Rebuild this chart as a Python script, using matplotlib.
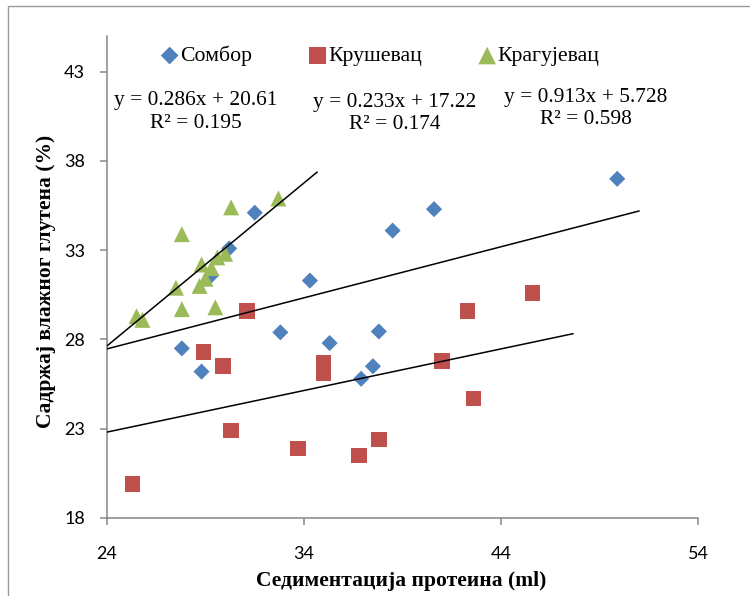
import matplotlib.pyplot as plt
from matplotlib.patches import Rectangle
import numpy as np

# Сомбор (diamonds)
sombor_x = [49.9, 40.6, 38.5, 31.5, 30.2, 29.3, 34.3, 32.8, 35.3, 27.8, 28.8, 37.8, 37.5, 36.9]
sombor_y = [37.0, 35.3, 34.1, 35.1, 33.1, 31.6, 31.3, 28.4, 27.8, 27.5, 26.2, 28.45, 26.5, 25.8]
# Крушевац (squares)
krus_x = [45.6, 42.3, 42.6, 41.0, 37.8, 36.8, 33.7, 35.0, 35.0, 31.1, 28.9, 29.9, 30.3, 25.3]
krus_y = [30.6, 29.6, 24.7, 26.8, 22.4, 21.5, 21.9, 26.7, 26.1, 29.6, 27.3, 26.5, 22.9, 19.9]
# Крагујевац (triangles)
krag_x = [32.7, 30.3, 27.8, 28.8, 29.6, 30.0, 29.3, 29.0, 28.7, 27.5, 27.8, 29.5, 25.5, 25.8]
krag_y = [35.9, 35.4, 33.9, 32.2, 32.6, 32.8, 32.0, 31.4, 31.0, 30.9, 29.7, 29.8, 29.3, 29.1]

series_names = ['Сомбор', 'Крушевац', 'Крагујевац']
slopes = [0.286, 0.233, 0.913]
intercepts = [20.61, 17.22, 5.728]
r2 = [0.195, 0.174, 0.598]
trend_end = [51.0, 47.65, 34.66]

xticks = [24, 34, 44, 54]
yticks = [18, 23, 28, 33, 38, 43]

colors = ['#4F81BD', '#C0504D', '#9BBB59']
serif = 'Liberation Serif'
gray = '#868686'

fig = plt.figure(figsize=(7.5, 5.96), dpi=100)
ax = fig.add_axes([107/750, 1 - 518/596, 591/750, 482/596])

ax.scatter(sombor_x, sombor_y, marker='D', s=8.2**2, color=colors[0], edgecolors='none', label=series_names[0], zorder=2)
ax.scatter(krus_x, krus_y, marker='s', s=11.2**2, color=colors[1], edgecolors='none', label=series_names[1], zorder=2)
ax.scatter(krag_x, krag_y, marker='^', s=11.5**2, color=colors[2], edgecolors='none', label=series_names[2], zorder=2)

for k in range(3):
    xs = np.array([24, trend_end[k]])
    ax.plot(xs, slopes[k] * xs + intercepts[k], color='black', lw=1.1, zorder=3)

# equation labels
eq_pos = [(28.5, 40.75), (38.6, 40.65), (48.3, 40.95)]
for k in range(3):
    s = 'y = %gx + %g\nR² = %g' % (slopes[k], intercepts[k], r2[k])
    ax.text(eq_pos[k][0], eq_pos[k][1], s, ha='center', va='center', multialignment='center',
            family=serif, fontsize=15.4, linespacing=1.25)

ax.set_xlim(24, 54)
ax.set_ylim(18, 45)
ax.set_xticks(xticks)
ax.set_yticks(yticks)
for lab in ax.get_xticklabels() + ax.get_yticklabels():
    lab.set_family('Lato')
    lab.set_fontsize(13)
ax.tick_params(axis='both', direction='out', length=5, width=1.1, color=gray)
ax.tick_params(axis='y', pad=11)
ax.tick_params(axis='x', pad=15)

for sp in ['top', 'right']:
    ax.spines[sp].set_visible(False)
for sp in ['left', 'bottom']:
    ax.spines[sp].set_color(gray)
    ax.spines[sp].set_linewidth(1.1)

ax.set_xlabel('Седиментација протеина (ml)', family=serif, fontsize=15.5, fontweight='bold')
ax.set_ylabel('Садржај влажног глутена (%)', family=serif, fontsize=15.5, fontweight='bold')
ax.xaxis.set_label_coords(0.497, -0.11)
ax.yaxis.set_label_coords(-0.086, 0.49)

ax.legend(loc='center left', bbox_to_anchor=(162/750, 1 - 56/596), bbox_transform=fig.transFigure,
          ncol=3, frameon=False, prop={'family': serif, 'size': 15.7}, handlelength=0.7,
          handletextpad=0.13, columnspacing=2.65, borderpad=0, borderaxespad=0, scatterpoints=1,
          markerscale=1.1)

fig.patches.append(Rectangle((8/750, -0.2), 1.2, 1.2 - 6/596, transform=fig.transFigure,
                             fill=False, ec='#9a9a9a', lw=1))

fig.savefig('out.png', dpi=100)
